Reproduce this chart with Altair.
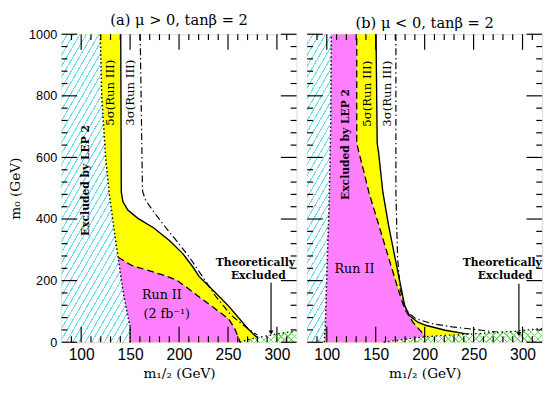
import math
import altair as alt
import pandas as pd

# ---------------- axes / ticks ----------------
X_DOMAIN = [80, 320]
Y_DOMAIN = [0, 1000]
X_MAJOR = [100, 150, 200, 250, 300]
X_MINOR = [90, 110, 120, 130, 140, 160, 170, 180, 190,
           210, 220, 230, 240, 260, 270, 280, 290, 310]
Y_MAJOR = [0, 200, 400, 600, 800, 1000]
Y_MINOR = [40, 80, 120, 160, 240, 280, 320, 360, 440, 480, 520,
           560, 640, 680, 720, 760, 840, 880, 920, 960]
TITLES = ["(a) \u03bc > 0, tan\u03b2 = 2", "(b) \u03bc < 0, tan\u03b2 = 2"]
X_TITLE = "m\u2081/\u2082 (GeV)"
Y_TITLE = "m\u2080 (GeV)"

# ---------------- panel (a): mu > 0 ----------------
a_lep_m12 = [150, 150, 148, 143, 137.5, 133, 128.8, 125, 121, 119.5]
a_lep_m0 = [0, 50, 80, 160, 280, 380, 480, 600, 800, 1000]

a_run2_m12 = [137.7, 151, 167.5, 184, 197.5, 210.6, 224, 237.2, 250.5, 257, 262.5]
a_run2_m0 = [276, 250, 234, 218, 202, 171, 139, 108, 76, 44, 0]

a_5s_m12 = [140.4, 141, 142.7, 147.7, 157.6, 174.2, 190.7, 204, 214, 220.6, 234, 250.5,
            270.4, 278.7, 282, 282]
a_5s_m0 = [1000, 487, 456, 429, 403, 371, 329, 287, 245, 213, 171, 118, 44, 18, 12, 0]

a_3s_m12 = [160.3, 162.6, 163, 166, 174, 184, 197.5, 210.6, 224, 237.2, 253.8, 270.4, 280]
a_3s_m0 = [1000, 498, 487, 460, 424, 382, 329, 276, 213, 150, 86, 44, 23]

a_th_m12 = [262, 270, 280, 290, 300, 310, 320]
a_th_m0 = [0, 8, 15, 21, 27, 32, 37]

a_arrow = [294, 193, 23]  # m12, m0 start, m0 tip

# ---------------- panel (b): mu < 0 ----------------
b_lep_m12 = [97.5, 98.6, 100.6, 102.5, 104, 104.6]
b_lep_m0 = [0, 66, 276, 456, 700, 1000]

b_run2_m12 = [201, 201, 199.6, 188, 179.6, 173, 163, 153, 143, 137.3, 133, 130.6, 130.6]
b_run2_m0 = [0, 15, 23, 65, 108, 171, 276, 382, 487, 561, 614, 646, 1000]

b_5s_m12 = [245, 245, 241, 221, 201, 193, 184.6, 179.6, 176.3, 169.6, 163, 157.3, 153, 151.5, 150.3]
b_5s_m0 = [0, 27, 28, 39, 55, 65, 86, 118, 171, 276, 382, 487, 614, 646, 1000]

b_3s_m12 = [170.6, 170.6, 172.3, 175, 179.6, 183, 191, 208, 228, 258, 275]
b_3s_m0 = [1000, 487, 276, 171, 118, 97, 76, 60, 50, 39, 32]

b_th_m12 = [158, 180, 201, 220, 241, 260, 274, 294, 320]
b_th_m0 = [0, 10, 18, 22, 25, 29, 32, 36, 45]

b_arrow = [296.3, 190, 18]

# ---------------- labels ----------------
a_rot_texts = ["5\u03c3(Run III)", "3\u03c3(Run III)"]
a_rot_m12 = [129.8, 150.3]
a_rot_m0 = [810, 810]
a_lep_text = ["Excluded by LEP 2"]
a_lep_text_pos = [104.9, 525]
a_run_texts = ["Run II", "(2 fb\u207b\u00b9)"]
a_run_m12 = [182.5, 187.5]
a_run_m0 = [152, 92]
a_th_texts = ["Theoretically", "Excluded"]
a_th_text_m12 = [278, 281]
a_th_text_m0 = [256, 215]

b_rot_texts = ["5\u03c3(Run III)", "3\u03c3(Run III)"]
b_rot_m12 = [141.3, 161.3]
b_rot_m0 = [807, 807]
b_lep_text = ["Excluded by LEP 2"]
b_lep_text_pos = [119.3, 642]
b_run_texts = ["Run II"]
b_run_m12 = [128.3]
b_run_m0 = [237]
b_th_texts = ["Theoretically", "Excluded"]
b_th_text_m12 = [279.3, 282.3]
b_th_text_m0 = [256, 215]

# ---------------- style ----------------
PW, PH = 241, 316
PX_X = PW / (X_DOMAIN[1] - X_DOMAIN[0])
PX_Y = PH / (Y_DOMAIN[1] - Y_DOMAIN[0])
YELLOW = "#ffff00"
MAGENTA = "#ff80ff"
CYAN = "#6fdeec"
GREEN = "#6fe060"
SERIF = "DejaVu Serif"
SANS = "Liberation Sans"
MAJ, MINL = 16, 6

XS = alt.Scale(domain=X_DOMAIN, nice=False, zero=False)
YS = alt.Scale(domain=Y_DOMAIN, nice=False, zero=False)

X_AXIS = alt.Axis(orient="bottom", values=X_MAJOR, ticks=False, domain=False, grid=False,
                  labelFont=SANS, labelFontSize=16, labelColor="black", labelPadding=5,
                  title=X_TITLE, titleFont=SERIF, titleFontSize=14, titleFontWeight="normal",
                  titleColor="black", titlePadding=4)
Y_AXIS = alt.Axis(orient="left", values=Y_MAJOR, ticks=False, domain=False, grid=False,
                  format="d", labelFont=SANS, labelFontSize=13, labelColor="black",
                  labelPadding=5, title=Y_TITLE, titleFont=SERIF, titleFontSize=14,
                  titleFontWeight="normal", titleColor="black", titlePadding=6)


def stripes(W, H, angle, period, color, bg, frac, direction="/"):
    k = H / (W * math.tan(math.radians(angle)))
    a = (1 + k) / (1 + k * k)
    b = k * a
    n = max(1, round((1 + k) * W / period))
    stops = []
    for i in range(n):
        o0 = i / n
        o1 = (i + 1 - frac) / n
        o2 = (i + 1) / n
        stops += [alt.GradientStop(color=bg, offset=o0),
                  alt.GradientStop(color=bg, offset=o1),
                  alt.GradientStop(color=color, offset=o1),
                  alt.GradientStop(color=color, offset=min(o2, 1.0))]
    if direction == "/":
        return alt.LinearGradient(gradient="linear", stops=stops, x1=0, y1=0, x2=a, y2=b)
    return alt.LinearGradient(gradient="linear", stops=stops, x1=0, y1=1, x2=a, y2=1 - b)


def frame(m12, m0):
    return pd.DataFrame({"m12": m12, "m0": m0, "i": list(range(len(m12))),
                         "bx": X_DOMAIN[0], "by": Y_DOMAIN[0]})


def tick_frame(vals, L, side):
    """Tick segments expressed in data units (length L pixels converted)."""
    lx, ly = L / PX_X, L / PX_Y
    if side == "bottom":
        return pd.DataFrame({"x": vals, "x2": vals, "y": [Y_DOMAIN[0]] * len(vals),
                             "y2": [Y_DOMAIN[0] + ly] * len(vals)})
    if side == "top":
        return pd.DataFrame({"x": vals, "x2": vals, "y": [Y_DOMAIN[1]] * len(vals),
                             "y2": [Y_DOMAIN[1] - ly] * len(vals)})
    if side == "left":
        return pd.DataFrame({"y": vals, "y2": vals, "x": [X_DOMAIN[0]] * len(vals),
                             "x2": [X_DOMAIN[0] + lx] * len(vals)})
    return pd.DataFrame({"y": vals, "y2": vals, "x": [X_DOMAIN[1]] * len(vals),
                         "x2": [X_DOMAIN[1] - lx] * len(vals)})


class Panel:
    def __init__(self, first):
        self.yaxis = Y_AXIS if first else None

    def X(self, field="m12"):
        return alt.X(field + ":Q", scale=XS, axis=X_AXIS)

    def Y(self, field="m0"):
        return alt.Y(field + ":Q", scale=YS, axis=self.yaxis)

    def hfill(self, df, fill):
        return alt.Chart(df).mark_area(orient="horizontal", fill=fill, fillOpacity=1).encode(
            y=self.Y(), x=self.X(), x2="bx:Q")

    def vfill(self, df, fill):
        return alt.Chart(df).mark_area(orient="vertical", fill=fill, fillOpacity=1).encode(
            x=self.X(), y=self.Y(), y2="by:Q")

    def line(self, df, dash=None, width=1.3):
        kw = dict(color="black", strokeWidth=width)
        if dash is not None:
            kw["strokeDash"] = dash
        return alt.Chart(df).mark_line(**kw).encode(x=self.X(), y=self.Y(), order="i:Q")

    def texts(self, t, m12, m0, size, angle=0, weight="normal"):
        df = pd.DataFrame({"t": t, "m12": m12, "m0": m0})
        return alt.Chart(df).mark_text(font=SERIF, fontSize=size, angle=angle,
                                       fontWeight=weight, color="black").encode(
            x=self.X(), y=self.Y(), text="t:N")

    def arrow(self, spec):
        x, y0, y1 = spec
        df = pd.DataFrame({"m12": [x, x], "m0": [y0, y1 + 10], "i": [0, 1]})
        tip = pd.DataFrame({"m12": [x], "m0": [y1 + 8]})
        r = alt.Chart(df).mark_line(color="black", strokeWidth=1.2).encode(
            x=self.X(), y=self.Y(), order="i:Q")
        p = alt.Chart(tip).mark_point(shape="triangle-down", filled=True, color="black",
                                      size=26, opacity=1).encode(x=self.X(), y=self.Y())
        return [r, p]

    def ticks(self, vals, L, side):
        df = tick_frame(vals, L, side)
        return alt.Chart(df).mark_rule(color="black", strokeWidth=1.2).encode(
            x=self.X("x"), x2="x2:Q", y=self.Y("y"), y2="y2:Q")


def panel(title, lep, run2, s5, s3, th, arr, txt, first):
    P = Panel(first)
    lep_df = frame(*lep)
    run2_df = frame(*run2)
    s5_df = frame(*s5)
    s3_df = frame(*s3)
    th_df = frame(*th)
    lep_w = (max(lep[0]) - X_DOMAIN[0]) * PX_X
    th_w = (X_DOMAIN[1] - min(th[0])) * PX_X
    th_h = max(th[1]) * PX_Y
    cyan_fill = stripes(lep_w, PH, 60, 6.5, CYAN, "white", 0.2, "/")
    g1 = stripes(th_w, th_h, 45, 7, GREEN, "rgba(255,255,255,0)", 0.2, "/")
    g2 = stripes(th_w, th_h, 45, 7, GREEN, "rgba(255,255,255,0)", 0.2, "\\")
    layers = [
        P.hfill(s5_df, YELLOW),
        P.hfill(run2_df, MAGENTA),
        P.line(run2_df, [7, 4], 1.3),
        P.line(s5_df, None, 1.4),
        P.line(s3_df, [7, 3, 1.5, 3], 1.2),
        P.vfill(th_df, "white"),
        P.vfill(th_df, g1),
        P.vfill(th_df, g2),
        P.line(th_df, [1.5, 3], 1.3),
        P.hfill(lep_df, cyan_fill),
        P.line(lep_df, [1.5, 2.5], 1.5),
    ]
    for (t, m12, m0, size, angle, weight) in txt:
        layers.append(P.texts(t, m12, m0, size, angle, weight))
    layers += P.arrow(arr)
    layers += [
        P.ticks(X_MAJOR, MAJ, "bottom"), P.ticks(X_MINOR, MINL, "bottom"),
        P.ticks(X_MAJOR, MAJ, "top"), P.ticks(X_MINOR, MINL, "top"),
        P.ticks(Y_MAJOR, MAJ, "left"), P.ticks(Y_MINOR, MINL, "left"),
        P.ticks(Y_MAJOR, MAJ, "right"), P.ticks(Y_MINOR, MINL, "right"),
    ]
    return alt.layer(*layers).properties(
        width=PW, height=PH,
        title=alt.TitleParams(text=title, font=SERIF, fontSize=15, fontWeight="normal",
                              anchor="middle", color="black", offset=0, frame="group"))


a_txt = [
    (a_rot_texts, a_rot_m12, a_rot_m0, 12, 270, "normal"),
    (a_lep_text, [a_lep_text_pos[0]], [a_lep_text_pos[1]], 11, 270, "bold"),
    (a_run_texts, a_run_m12, a_run_m0, 13, 0, "normal"),
    (a_th_texts, a_th_text_m12, a_th_text_m0, 11, 0, "bold"),
]
b_txt = [
    (b_rot_texts, b_rot_m12, b_rot_m0, 12, 270, "normal"),
    (b_lep_text, [b_lep_text_pos[0]], [b_lep_text_pos[1]], 11, 270, "bold"),
    (b_run_texts, b_run_m12, b_run_m0, 13, 0, "normal"),
    (b_th_texts, b_th_text_m12, b_th_text_m0, 11, 0, "bold"),
]

pa = panel(TITLES[0], (a_lep_m12, a_lep_m0), (a_run2_m12, a_run2_m0), (a_5s_m12, a_5s_m0),
           (a_3s_m12, a_3s_m0), (a_th_m12, a_th_m0), a_arrow, a_txt, True)
pb = panel(TITLES[1], (b_lep_m12, b_lep_m0), (b_run2_m12, b_run2_m0), (b_5s_m12, b_5s_m0),
           (b_3s_m12, b_3s_m0), (b_th_m12, b_th_m0), b_arrow, b_txt, False)

chart = alt.hconcat(pa, pb, spacing=5).properties(padding=0).configure_view(
    stroke="black", strokeWidth=1.4).configure(background="white")

chart.save("out.html", embed_options={"renderer": "svg", "actions": False})
